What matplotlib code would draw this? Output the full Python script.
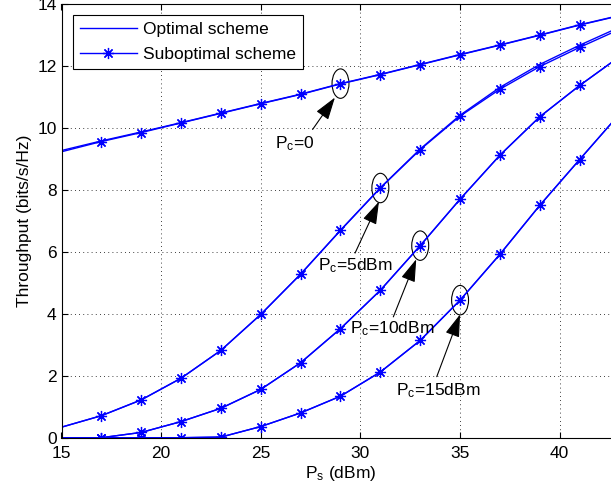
import matplotlib
matplotlib.use('Agg')
import matplotlib.pyplot as plt
from matplotlib.patches import Ellipse

plt.rcParams['font.family'] = ['Liberation Sans', 'DejaVu Sans']
plt.rcParams['mathtext.default'] = 'regular'
plt.rcParams['font.size'] = 12

# transmit power P_s (dBm)
ps = [15, 17, 19, 21, 23, 25, 27, 29, 31, 33, 35, 37, 39, 41, 43]

# suboptimal scheme, one list per P_c
sub_pc0 = [9.23, 9.56, 9.85, 10.16, 10.47, 10.78, 11.08, 11.42, 11.72, 12.04, 12.36, 12.67, 12.99, 13.32, 13.62]
sub_pc5 = [0.34, 0.71, 1.22, 1.92, 2.82, 3.98, 5.28, 6.69, 8.06, 9.30, 10.38, 11.25, 11.98, 12.60, 13.18]
sub_pc10 = [0.0, 0.0, 0.17, 0.52, 0.95, 1.56, 2.42, 3.52, 4.76, 6.20, 7.70, 9.12, 10.36, 11.37, 12.30]
sub_pc15 = [0.0, 0.0, 0.0, 0.0, 0.02, 0.36, 0.80, 1.34, 2.12, 3.14, 4.44, 5.92, 7.50, 8.98, 10.45]

# optimal scheme (almost on top of the suboptimal one)
opt_pc0 = [9.27, 9.58, 9.87, 10.17, 10.48, 10.79, 11.09, 11.43, 11.73, 12.05, 12.37, 12.68, 13.00, 13.33, 13.63]
opt_pc5 = [0.34, 0.71, 1.22, 1.92, 2.82, 3.98, 5.28, 6.70, 8.07, 9.32, 10.41, 11.31, 12.05, 12.67, 13.25]
opt_pc10 = sub_pc10
opt_pc15 = sub_pc15

# annotation labels: text, marked point, text pos, arrow tail, arrow head
notes = [
    ('P$_c$=0', (29, 11.43), (25.7, 9.35), (27.6, 9.95), (28.72, 10.98)),
    ('P$_c$=5dBm', (31, 8.06), (27.85, 5.41), (29.73, 5.96), (30.93, 7.62)),
    ('P$_c$=10dBm', (33, 6.20), (29.5, 3.38), (31.65, 3.90), (32.8, 5.76)),
    ('P$_c$=15dBm', (35, 4.44), (31.8, 1.38), (33.83, 1.97), (35.0, 3.98)),
]

fig = plt.figure(figsize=(6.11, 4.93), dpi=100)
# axes run a little past the right edge of the picture, like the original crop
ax = fig.add_axes([61.5 / 611, (493 - 437.7) / 493, 558 / 611, 433.7 / 493])

blue = (0, 0, 1)
star = (8, 2, 0)
for i, (opt, sub) in enumerate([(opt_pc0, sub_pc0), (opt_pc5, sub_pc5),
                                 (opt_pc10, sub_pc10), (opt_pc15, sub_pc15)]):
    ax.plot(ps, opt, color=blue, lw=1.0, label='Optimal scheme' if i == 0 else None)
    ax.plot(ps, sub, color=blue, lw=1.0, marker=star, markersize=8, mew=0.9,
            markevery=slice(1, None), label='Suboptimal scheme' if i == 0 else None)

for text, pt, tpos, tail, head in notes:
    ax.add_patch(Ellipse(pt, 0.85, 0.95, fill=False, ec='black', lw=0.8))
    ax.text(tpos[0], tpos[1], text, ha='left', va='baseline', fontsize=12.5)
    ax.annotate('', xy=head, xytext=tail,
                arrowprops=dict(arrowstyle='-|>,head_length=1.4,head_width=0.45',
                                color='black', lw=0.8, mutation_scale=10,
                                shrinkA=0, shrinkB=0))

ax.set_xlim(15, 43)
ax.set_ylim(0, 14)
ax.set_xticks([15, 20, 25, 30, 35, 40])
ax.set_yticks([0, 2, 4, 6, 8, 10, 12, 14])
ax.grid(True, color='black', linestyle=(0, (1, 4)), lw=0.6)
ax.tick_params(direction='in', top=True, right=False, length=4, labelsize=12.5)
ax.tick_params(axis='x', pad=6)
ax.spines['right'].set_visible(False)
ax.set_xlabel('P$_s$ (dBm)', fontsize=12.5, labelpad=2)
ax.set_ylabel('Throughput (bits/s/Hz)', fontsize=12.5)

leg = ax.legend(loc='upper left', fontsize=12.5, fancybox=False, framealpha=1,
                edgecolor='black', handlelength=3.3, handletextpad=0.35,
                borderaxespad=0.65, labelspacing=0.55, borderpad=0.4)
leg.get_frame().set_linewidth(0.8)

fig.savefig('out.png', dpi=100)
